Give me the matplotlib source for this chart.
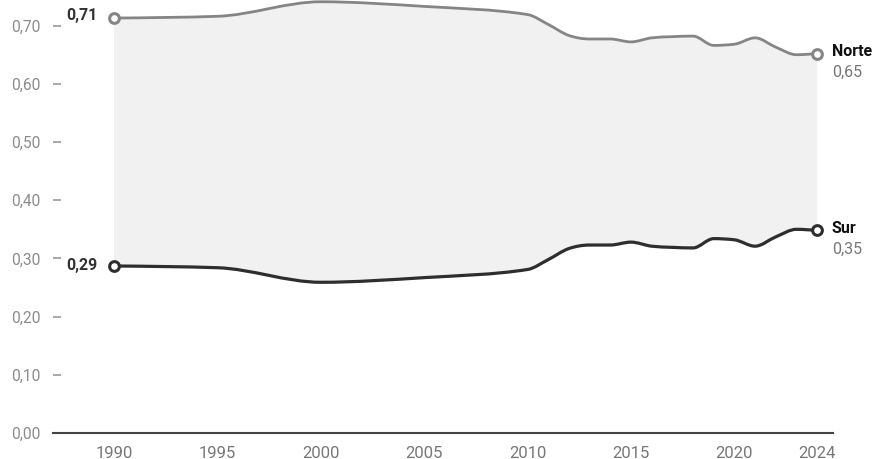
import numpy as np
import matplotlib
matplotlib.use("Agg")
import matplotlib.pyplot as plt
from matplotlib.path import Path
from matplotlib.patches import PathPatch

plt.rcParams['font.family'] = ['Roboto', 'DejaVu Sans']

years = [1990, 1995, 2000, 2005, 2010, 2011, 2012, 2013, 2014, 2015, 2016,
         2017, 2018, 2019, 2020, 2021, 2022, 2023, 2024]
norte = [0.713, 0.716, 0.741, 0.733, 0.719, 0.702, 0.683, 0.677, 0.677, 0.672,
         0.679, 0.681, 0.682, 0.666, 0.668, 0.679, 0.663, 0.650, 0.652]
sur = [0.287, 0.284, 0.259, 0.267, 0.281, 0.298, 0.317, 0.323, 0.323, 0.328,
       0.321, 0.319, 0.318, 0.334, 0.332, 0.321, 0.337, 0.350, 0.348]
yticks = [0.0, 0.1, 0.2, 0.3, 0.4, 0.5, 0.6, 0.7]
ytick_labels = ["0,00", "0,10", "0,20", "0,30", "0,40", "0,50", "0,60", "0,70"]
xticks = [1990, 1995, 2000, 2005, 2010, 2015, 2020, 2024]
start_labels = ["0,71", "0,29"]
end_labels = [("Norte", "0,65"), ("Sur", "0,35")]


def monotone_tangents(x, y):
    x = np.asarray(x, float); y = np.asarray(y, float)
    n = len(x)
    h = np.diff(x); s = np.diff(y) / h
    m = np.zeros(n)
    for i in range(1, n - 1):
        h0, h1, s0, s1 = h[i - 1], h[i], s[i - 1], s[i]
        p = (s0 * h1 + s1 * h0) / (h0 + h1)
        m[i] = (np.sign(s0) + np.sign(s1)) * min(abs(s0), abs(s1), 0.5 * abs(p))
    m[0] = (3 * s[0] - m[1]) / 2
    m[-1] = (3 * s[-1] - m[-2]) / 2
    return m


def curve_vertices(x, y):
    m = monotone_tangents(x, y)
    verts = [(x[0], y[0])]
    codes = [Path.MOVETO]
    for i in range(len(x) - 1):
        hh = x[i + 1] - x[i]
        verts += [(x[i] + hh / 3, y[i] + m[i] * hh / 3),
                  (x[i + 1] - hh / 3, y[i + 1] - m[i + 1] * hh / 3),
                  (x[i + 1], y[i + 1])]
        codes += [Path.CURVE4] * 3
    return verts, codes


fig = plt.figure(figsize=(8.79, 4.59), dpi=100)
ax = fig.add_axes([0.0603, 0.0566, 0.8874, 0.9434])
ax.set_xlim(1987.05, 2024.77)
ax.set_ylim(0, 0.744)

# band fill
tv, tc = curve_vertices(years, norte)
bv, bc = curve_vertices(years[::-1], sur[::-1])
fill_verts = tv + [bv[0]] + bv[1:] + [tv[0]]
fill_codes = tc + [Path.LINETO] + bc[1:] + [Path.CLOSEPOLY]
ax.add_patch(PathPatch(Path(fill_verts, fill_codes), facecolor='#f1f1f1',
                       edgecolor='none', zorder=1))

for vals, col, lw in [(norte, '#858585', 2.0), (sur, '#2e2e2e', 2.3)]:
    v, c = curve_vertices(years, vals)
    ax.add_patch(PathPatch(Path(v, c), facecolor='none', edgecolor=col,
                           lw=lw, zorder=3, clip_on=False, capstyle='round'))
    ax.plot([years[0], years[-1]], [vals[0], vals[-1]], 'o', ms=7,
            mfc='white', mec=col, mew=2.2, zorder=4, clip_on=False)

# start labels
for vals, lab, dy in [(norte, start_labels[0], 0.004), (sur, start_labels[1], 0.0)]:
    ax.text(years[0] - 0.78, vals[0] + dy, lab, ha='right', va='center',
            fontsize=11.5, fontweight='bold', color='#333333')

# end labels
for vals, (name, val) in zip([norte, sur], end_labels):
    ax.text(years[-1] + 0.72, vals[-1] + 0.004, name, ha='left', va='center',
            fontsize=11.5, fontweight='bold', color='#111111', clip_on=False)
    ax.text(years[-1] + 0.72, vals[-1] - 0.032, val, ha='left', va='center',
            fontsize=11.5, color='#777777', clip_on=False)

ax.set_yticks(yticks)
ax.set_yticklabels(ytick_labels)
ax.set_xticks(xticks)
ax.set_xticklabels([str(x) for x in xticks])
ax.tick_params(axis='y', direction='in', length=6, width=1.2, color='#999999',
               labelcolor='#8c8c8c', labelsize=11.2, pad=9)
ax.tick_params(axis='x', length=0, labelcolor='#777777', labelsize=12, pad=9)
for side in ['top', 'right', 'left']:
    ax.spines[side].set_visible(False)
ax.spines['bottom'].set_color('#444444')
ax.spines['bottom'].set_linewidth(1.5)
ax.set_facecolor('none')

fig.savefig('out.png', dpi=100)
